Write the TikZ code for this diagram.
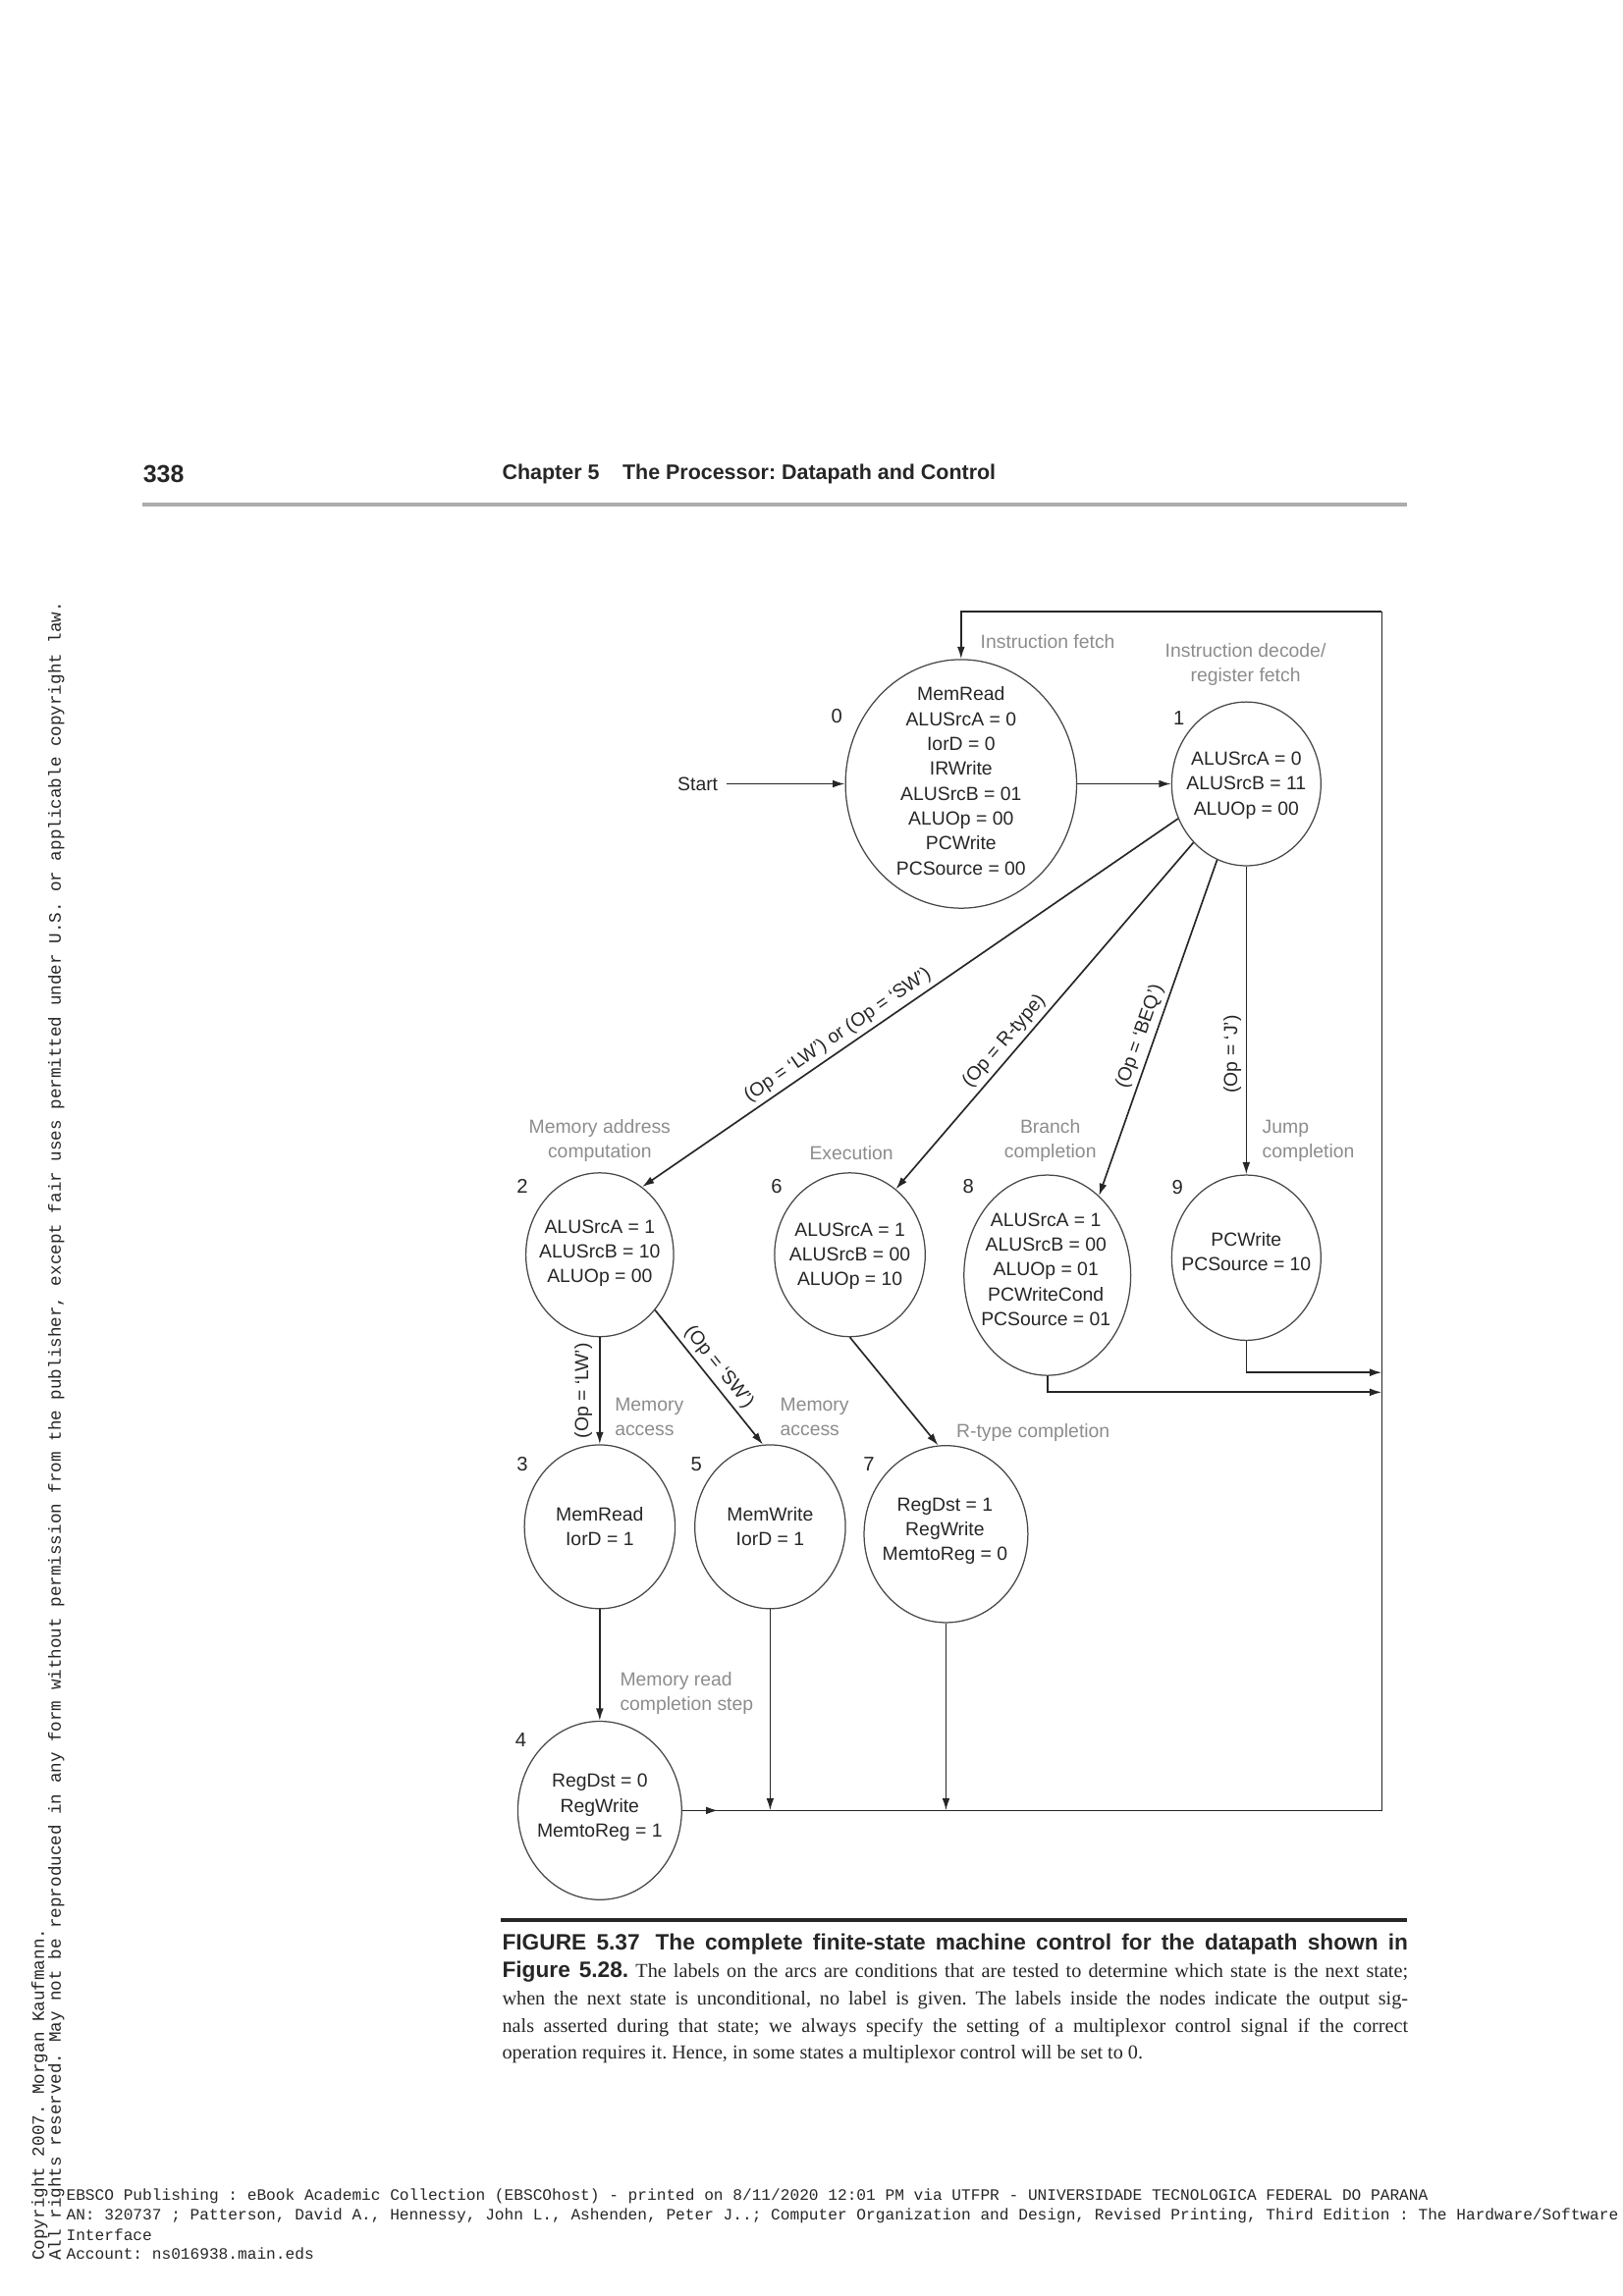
\documentclass[tikz,border=0pt]{standalone}
\usepackage{fontspec}
\usetikzlibrary{shapes.geometric,arrows.meta}
\newfontfamily\dgfont{Liberation Sans}
\newfontfamily\serfont{Liberation Serif}
\newfontfamily\monofont{Liberation Mono}
\definecolor{lbl}{gray}{0.55}
\definecolor{ink}{gray}{0.15}
\newcommand\capbf{\dgfont\bfseries\fontsize{8.2}{10.06}\selectfont}
\frenchspacing

\tikzset{
  fsm/.style={ellipse, draw=ink!85, line width=0.45pt, inner sep=0pt},
  sz/.style 2 args={minimum width=#1*0.018927cm, minimum height=#2*0.018927cm},
  sig/.style={font=\dgfont\fontsize{7}{9.15}\selectfont, align=center, inner sep=0pt, text=ink},
  num/.style={font=\dgfont\fontsize{7.3}{9}\selectfont, inner sep=0pt, text=ink},
  phase/.style={font=\dgfont\fontsize{7}{9.15}\selectfont, text=lbl, inner sep=0pt},
  cond/.style={font=\dgfont\fontsize{7}{9}\selectfont, text=ink, inner sep=1.6pt},
  arr/.style={-{Latex[length=4.5pt,width=2.8pt]}, line width=0.6pt, draw=ink},
  wire/.style={line width=0.6pt, draw=ink},
  hdr/.style={font=\dgfont\bfseries\fontsize{7.75}{9.6}\selectfont, inner sep=0pt, text=ink},
  capt/.style={font=\serfont\fontsize{7.3}{10.06}\selectfont, align=justify, inner sep=0pt, text=ink},
  foot/.style={font=\monofont\fontsize{5.84}{6.98}\selectfont, inner sep=0pt, anchor=west, text=ink},
  side/.style={font=\monofont\fontsize{6.36}{7}\selectfont, inner sep=0pt, text=ink, rotate=90, anchor=west}
}

\begin{document}
\begin{tikzpicture}[x=0.018927cm, y=-0.018927cm]
\useasboundingbox (0,0) rectangle (1109.5,1570);

% page header
\node[hdr, anchor=west, font=\dgfont\bfseries\fontsize{9}{10}\selectfont] (pg) at (97.5,324) {338};
\node[hdr, anchor=west] (chap) at (343,324) {Chapter 5\hspace{1.1em}The Processor: Datapath and Control};
\draw[gray!65, line width=1.1pt] (97,345) -- (962,345);

% states
\node[fsm, sz={158}{170}] (s0) at (657,536) {};
\node[sig] (t0) at (657,534) {MemRead\\ALUSrcA = 0\\IorD = 0\\IRWrite\\ALUSrcB = 01\\ALUOp = 00\\PCWrite\\PCSource = 00};
\node[num] (n0) at (572,490) {0};

\node[fsm, sz={102}{112}] (s1) at (852,536) {};
\node[sig] (t1) at (852,537) {ALUSrcA = 0\\ALUSrcB = 11\\ALUOp = 00};
\node[num] (n1) at (806,491) {1};

\node[fsm, sz={101}{112}] (s2) at (410,858) {};
\node[sig] (t2) at (410,857) {ALUSrcA = 1\\ALUSrcB = 10\\ALUOp = 00};
\node[num] (n2) at (357,811) {2};

\node[fsm, sz={103}{112}] (s6) at (581,858) {};
\node[sig] (t6) at (581,859) {ALUSrcA = 1\\ALUSrcB = 00\\ALUOp = 10};
\node[num] (n6) at (531,811) {6};

\node[fsm, sz={114}{137}] (s8) at (716,872) {};
\node[sig] (t8) at (715,868) {ALUSrcA = 1\\ALUSrcB = 00\\ALUOp = 01\\PCWriteCond\\PCSource = 01};
\node[num] (n8) at (662,811) {8};

\node[fsm, sz={102}{113}] (s9) at (852,860) {};
\node[sig] (t9) at (852,856) {PCWrite\\PCSource = 10};
\node[num] (n9) at (805,812) {9};

\node[fsm, sz={103}{112}] (s3) at (410,1044) {};
\node[sig] (t3) at (410,1044) {MemRead\\IorD = 1};
\node[num] (n3) at (357,1001) {3};

\node[fsm, sz={103}{112}] (s5) at (526.5,1044) {};
\node[sig] (t5) at (526.5,1044) {MemWrite\\IorD = 1};
\node[num] (n5) at (476,1001) {5};

\node[fsm, sz={112}{121}] (s7) at (646.7,1049) {};
\node[sig] (t7) at (646,1047) {RegDst = 1\\RegWrite\\MemtoReg = 0};
\node[num] (n7) at (594,1001) {7};

\node[fsm, sz={112}{122}] (s4) at (410,1238) {};
\node[sig] (t4) at (410,1236) {RegDst = 0\\RegWrite\\MemtoReg = 1};
\node[num] (n4) at (356,1190) {4};

% phase names
\node[phase, anchor=west] (pIF) at (670,439) {Instruction fetch};
\node[phase, align=center] (pID) at (851.5,454.5) {Instruction decode/\\register fetch};
\node[phase, align=center] (pMA) at (410,780) {Memory address\\computation};
\node[phase] (pEX) at (582,788.7) {Execution};
\node[phase, align=center] (pBR) at (718,780) {Branch\\completion};
\node[phase, align=left, anchor=west] (pJP) at (862.6,780) {Jump\\completion};
\node[phase, align=left, anchor=west] (pM3) at (420,969) {Memory\\access};
\node[phase, align=left, anchor=west] (pM5) at (533,969) {Memory\\access};
\node[phase, anchor=west] (pRT) at (653.5,979.6) {R-type completion};
\node[phase, align=left, anchor=west] (pMR) at (423.5,1158) {Memory read\\completion step};

% transitions
\node[sig, inner sep=3pt] (start) at (477,536) {Start};
\draw[arr] (start) -- (s0);
\draw[arr] (s0) -- (s1);
\draw[arr] (s1.207) -- node[cond, sloped, above, pos=0.62] (c12) {(Op = ‘LW’) or (Op = ‘SW’)} (s2.58);
\draw[arr] (s1.228) -- node[cond, sloped, above, pos=0.6] (c16) {(Op = R-type)} (s6.55);
\draw[arr] (s1.249) -- node[cond, sloped, above, pos=0.54] (c18) {(Op = ‘BEQ’)} (s8.57);
\draw[arr] (s1.south) -- node[cond, pos=0.61, rotate=90, anchor=south, inner sep=1.6pt] (c19) {(Op = ‘J’)} (s9.north);
\draw[arr] (s2.south) -- node[cond, pos=0.5, rotate=90, anchor=south, inner sep=2.5pt] (c23) {(Op = ‘LW’)} (s3.north);
\draw[arr] (s2.315) -- node[cond, sloped, above, pos=0.49] (c25) {(Op = ‘SW’)} (s5.95);
\draw[arr] (s6.south) -- (s7.95);
\draw[arr] (s3.south) -- (s4.north);

% back to fetch
\coordinate (busR) at (944.7,1238);
\coordinate (topR) at (944.7,418);
\coordinate (bus4) at (491,1238);
\coordinate (j9) at (944.7,938.5);
\coordinate (j8) at (944.7,952);
\draw[wire] (s4.east) -- (busR) -- (topR);
\draw[arr] (topR) -| (s0.north);
\draw[arr] (s4.east) -- (bus4);
\draw[arr] (s5.south) -- (s5.south |- busR);
\draw[arr] (s7.south) -- (s7.south |- busR);
\draw[arr] (s9.south) |- (j9);
\draw[arr] (s8.south) |- (j8);

% caption
\draw[ink, line width=1.3pt] (342,1313) -- (962,1313);
\node[capt, anchor=north west, text width=11.716cm] (cap) at (343,1322) {%
{\capbf FIGURE 5.37\hspace{0.7em}The complete finite-state machine control for the datapath shown in}\linebreak
{\capbf Figure 5.28.} The labels on the arcs are conditions that are tested to determine which state is the next state;\linebreak
when the next state is unconditional, no label is given. The labels inside the nodes indicate the output sig-\linebreak
nals asserted during that state; we always specify the setting of a multiplexor control signal if the correct\linebreak
operation requires it. Hence, in some states a multiplexor control will be set to 0.};

% side and foot notes
\node[side] (cr1) at (27,1546) {Copyright 2007. Morgan Kaufmann.};
\node[side] (cr2) at (38.5,1546) {All rights reserved. May not be reproduced in any form without permission from the publisher, except fair uses permitted under U.S. or applicable copyright law.};
\node[foot] (f1) at (45,1502) {EBSCO Publishing : eBook Academic Collection (EBSCOhost) - printed on 8/11/2020 12:01 PM via UTFPR - UNIVERSIDADE TECNOLOGICA FEDERAL DO PARANA};
\node[foot] (f2) at (45,1515) {AN: 320737 ; Patterson, David A., Hennessy, John L., Ashenden, Peter J..; Computer Organization and Design, Revised Printing, Third Edition : The Hardware/Software};
\node[foot] (f3) at (45,1528) {Interface};
\node[foot] (f4) at (45,1541) {Account: ns016938.main.eds};
\end{tikzpicture}
\end{document}
